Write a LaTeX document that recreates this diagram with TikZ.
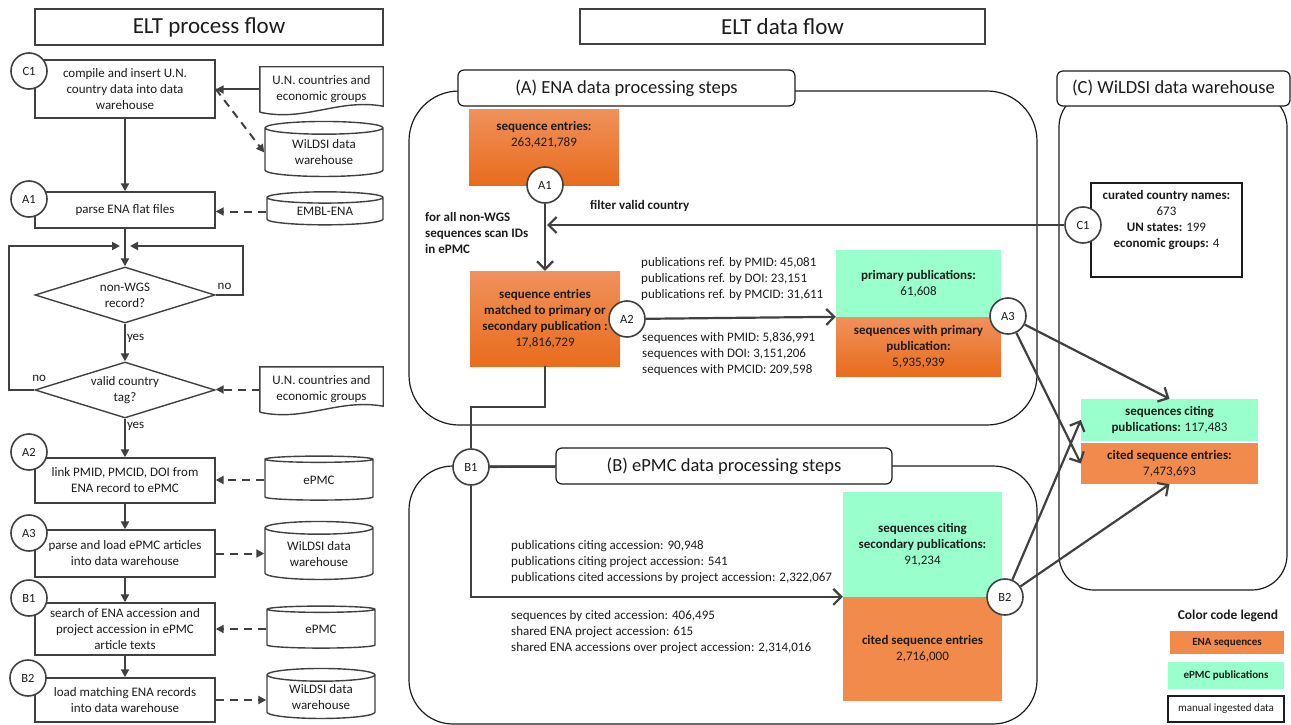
\documentclass[tikz,border=0pt]{standalone}
\usepackage{fontspec}
\setmainfont{Carlito}
\usepackage{tikz}
\usetikzlibrary{arrows.meta,positioning,calc,shapes.geometric}
\definecolor{linegray}{RGB}{64,64,64}
\definecolor{inkdark}{RGB}{28,28,28}
\definecolor{enaflat}{RGB}{242,138,76}
\definecolor{enatop}{RGB}{240,145,92}
\definecolor{enabottom}{RGB}{232,108,28}
\definecolor{pmcgreen}{RGB}{153,255,204}

\begin{document}
\begin{tikzpicture}[x=1pt,y=-1pt,
  every node/.style={text=inkdark},
  bigtitle/.style={draw=linegray,line width=1.2pt,fill=white,inner sep=0pt,font=\fontsize{23}{28}\selectfont},
  heading/.style={draw=inkdark,line width=1.2pt,fill=white,rounded corners=6pt,inner sep=0pt,minimum height=36pt,font=\fontsize{18.5}{22}\selectfont},
  container/.style={draw=inkdark,line width=1.2pt,rounded corners=#1},
  procbox/.style={draw=linegray,line width=1.4pt,fill=white,minimum width=180pt,inner sep=0pt,align=center,font=\fontsize{13}{16}\selectfont},
  decision/.style={diamond,draw=linegray,line width=1.4pt,fill=white,minimum width=180pt,minimum height=56pt,aspect=3.2,inner sep=0pt,align=center,font=\fontsize{13}{16}\selectfont},
  store/.style={cylinder,shape border rotate=90,aspect=0.2,draw=linegray,line width=1.4pt,fill=white,inner sep=0pt,align=center,font=\fontsize{13}{16}\selectfont},
  docnode/.style={inner sep=0pt,align=center,font=\fontsize{13}{16}\selectfont},
  docline/.style={draw=linegray,line width=1.4pt},
  stepcirc/.style={circle,draw=linegray,line width=1.6pt,fill=white,minimum size=36pt,inner sep=0pt,font=\fontsize{12.5}{15}\selectfont},
  lbl/.style={inner sep=1pt,font=\fontsize{13}{16}\selectfont},
  flowline/.style={draw=linegray,line width=2pt},
  flow/.style={flowline,-{Triangle[length=8pt,width=8pt]}},
  feed/.style={flow,dash pattern=on 8pt off 6pt},
  dataline/.style={draw=linegray,line width=2.2pt},
  dataflow/.style={dataline,-{Straight Barb[length=8pt,width=16pt]}},
  boxtxt/.style={inner sep=0pt,align=center,font=\fontsize{13}{16}\selectfont},
  datatxt/.style={inner sep=0pt,align=left,anchor=west,font=\fontsize{13}{16}\selectfont},
  enabox/.style={boxtxt,top color=enatop,bottom color=enabottom},
  flatbox/.style={boxtxt,fill=enaflat},
  pubbox/.style={boxtxt,fill=pmcgreen},
  infobox/.style={boxtxt,draw=inkdark,line width=1.3pt,fill=white}]
\useasboundingbox (0,0) rectangle (1291,725);

% ---- left: process flow ----
\node[bigtitle,minimum width=348pt,minimum height=36pt] (ptitle) at (209,27) {ELT process flow};

\node[procbox,minimum height=58pt] (c1box) at (125,89) {compile and insert U.N.\\country data into data\\warehouse};
\node[stepcirc] (c1) at (29,71) {C1};
\node[docnode,minimum width=123pt,minimum height=45pt] (un1) at (321.5,89.5) {U.N. countries and\\economic groups};
\node[store,minimum width=118pt,minimum height=55pt] (wh1) at (324,152.5) {WiLDSI data\\warehouse};

\node[procbox,minimum height=36pt] (a1box) at (125,210) {parse ENA flat files};
\node[stepcirc] (a1) at (29,199) {A1};
\node[store,minimum width=116pt,minimum height=33pt] (embl) at (325,211.5) {EMBL-ENA};

\coordinate (merge) at (125,246);
\node[decision] (dia1) at (125,295) {non-WGS\\record?};
\node[decision] (dia2) at (125,390) {valid country\\tag?};
\node[docnode,minimum width=123pt,minimum height=45pt] (un2) at (321.5,389.5) {U.N. countries and\\economic groups};

\node[procbox,minimum height=45pt] (a2box) at (125,480.5) {link PMID, PMCID, DOI from\\ENA record to ePMC};
\node[stepcirc] (a2) at (29,452) {A2};
\node[store,minimum width=108pt,minimum height=44pt] (epmc1) at (319,480) {ePMC};

\node[procbox,minimum height=47pt] (a3box) at (125,553.5) {parse and load ePMC articles\\into data warehouse};
\node[stepcirc] (a3) at (29,533) {A3};
\node[store,minimum width=108pt,minimum height=58pt] (wh2) at (319,554) {WiLDSI data\\warehouse};

\node[procbox,minimum height=52pt] (b1box) at (125,629) {search of ENA accession and\\project accession in ePMC\\article texts};
\node[stepcirc] (b1) at (29,598) {B1};
\node[store,minimum width=108pt,minimum height=42pt] (epmc2) at (321,629) {ePMC};

\node[procbox,minimum height=44pt] (b2box) at (125,700) {load matching ENA records\\into data warehouse};
\node[stepcirc] (b2) at (28,678) {B2};
\node[store,minimum width=108pt,minimum height=50pt] (wh3) at (321,697) {WiLDSI data\\warehouse};

\foreach \d in {un1,un2}
  \draw[docline] (\d.south west) -- (\d.north west) -- (\d.north east) -- ([yshift=6pt]\d.south east)
    .. controls +(-45,-8) and +(45,10) .. (\d.south west);

\draw[flow] (un1.west) -- (un1.west -| c1box.east);
\draw[feed] (c1box.east) -- (wh1.west);
\draw[flow] (c1box) -- (a1box);
\draw[feed] (embl.west) -- (embl.west -| a1box.east);
\draw[flowline] (a1box) -- (merge);
\draw[flow] (merge) -- (dia1);
\draw[flow] (dia1.east) node[lbl,anchor=south west,yshift=3pt] (no1) {no} -- ++(27,0) |- ([xshift=5pt]merge);
\draw[flow] (dia2.west) node[lbl,anchor=south west,xshift=-4pt,yshift=6pt] (no2) {no} -- ++(-25,0) |- ([xshift=-5pt]merge);
\draw[flow] (dia1.south) node[lbl,anchor=north west,yshift=-8pt] (yes1) {yes} -- (dia2.north);
\draw[feed] (un2.west) -- (un2.west -| dia2.east);
\draw[flow] (dia2.south) node[lbl,anchor=north west,yshift=-1pt] (yes2) {yes} -- (a2box.north);
\draw[feed] (epmc1.west) -- (epmc1.west -| a2box.east);
\draw[flow] (a2box) -- (a3box);
\draw[feed] (a3box.east) -- (a3box.east -| wh2.west);
\draw[flow] (a3box) -- (b1box);
\draw[feed] (epmc2.west) -- (epmc2.west -| b1box.east);
\draw[flow] (b1box) -- (b2box);
\draw[feed] (b2box.east) -- (b2box.east -| wh3.west);

% ---- right: data flow ----
\node[bigtitle,minimum width=405pt,minimum height=35pt] (dtitle) at (782.5,26.5) {ELT data flow};

\draw[container=50pt] (409,91) rectangle (1037,425);
\draw[container=44pt] (409,466) rectangle (1037,724);
\draw[container=35pt] (1059,92) rectangle (1287,590);
\node[heading,minimum width=337pt] (headA) at (626.5,88) {(A) ENA data processing steps};
\node[heading,minimum width=336pt] (headB) at (724,466) {(B) ePMC data processing steps};
\node[heading,minimum width=233pt,minimum height=35pt] (headC) at (1173.5,88.5) {(C) WiLDSI data warehouse};

\node[enabox,minimum width=150pt,minimum height=76pt] (seqent) at (544,147) {};
\node[boxtxt] (seqenttxt) at (544,135) {\textbf{sequence entries:}\\263,421,789};
\node[stepcirc] (a1r) at (545,185) {A1};
\node[datatxt,font=\fontsize{13}{16}\selectfont\bfseries] (filtertxt) at (590,206) {filter valid country};
\node[datatxt,font=\fontsize{13}{16}\selectfont\bfseries] (scantxt) at (425,233) {for all non-WGS\\sequences scan IDs\\in ePMC};
\node[enabox,minimum width=150pt,minimum height=95pt] (matched) at (545,318.5) {\textbf{sequence entries}\\\textbf{matched to primary or}\\\textbf{secondary publication :}\\17,816,729};
\node[stepcirc] (a2r) at (627,319) {A2};
\node[datatxt] (refcounts) at (641,279) {publications ref. by PMID: 45,081\\publications ref. by DOI: 23,151\\publications ref. by PMCID: 31,611};
\node[datatxt] (seqcounts) at (642,354) {sequences with PMID: 5,836,991\\sequences with DOI: 3,151,206\\sequences with PMCID: 209,598};
\node[pubbox,minimum width=165pt,minimum height=67pt] (primpub) at (918.5,283.5) {\textbf{primary publications:}\\61,608};
\node[enabox,minimum width=165pt,minimum height=59pt] (seqprim) at (918.5,346.5) {\textbf{sequences with primary}\\\textbf{publication:}\\5,935,939};
\node[stepcirc] (a3r) at (1008,316) {A3};

\node[infobox,minimum width=151pt,minimum height=94pt] (curated) at (1166.5,230) {};
\node[boxtxt] (curatedtxt) at (1166.5,220) {\textbf{curated country names:}\\673\\\textbf{UN states:} 199\\\textbf{economic groups:} 4};
\node[stepcirc] (c1r) at (1083,225) {C1};
\node[pubbox,minimum width=177pt,minimum height=42pt] (citing) at (1169.5,420) {\textbf{sequences citing}\\\textbf{publications:} 117,483};
\node[flatbox,minimum width=177pt,minimum height=41pt] (cited) at (1169.5,463.5) {\textbf{cited sequence entries:}\\7,473,693};

\node[stepcirc] (b1r) at (471,467) {B1};
\node[datatxt] (pubcounts) at (511,562) {publications citing accession: 90,948\\publications citing project accession: 541\\publications cited accessions by project accession: 2,322,067};
\node[datatxt] (acccounts) at (511,632) {sequences by cited accession: 406,495\\shared ENA project accession: 615\\shared ENA accessions over project accession: 2,314,016};
\node[pubbox,minimum width=159pt,minimum height=105pt] (secpub) at (922.5,544.5) {\textbf{sequences citing}\\\textbf{secondary publications:}\\91,234};
\node[flatbox,minimum width=159pt,minimum height=104pt] (citedseq) at (922.5,649) {\textbf{cited sequence entries}\\2,716,000};
\node[stepcirc] (b2r) at (1005,597) {B2};

\draw[dataflow] (a1r) -- (matched);
\draw[dataflow] (c1r) -- ([xshift=2pt]c1r -| a1r);
\draw[dataflow] (a2r) -- (seqprim.north west);
\draw[dataflow] (a3r) -- (citing.north);
\draw[dataflow] (a3r) -- (cited.west);
\draw[dataline] (matched.south) -- ++(0,41) -| (b1r);
\draw[dataline] (b1r) -- (headB);
\draw[dataflow] (b1r) |- (citedseq.north west);
\draw[dataflow] (b2r) -- (citing.west);
\draw[dataflow] (b2r) -- (cited.south);

% legend
\node[boxtxt,font=\fontsize{13.5}{16}\selectfont\bfseries] (legtitle) at (1228,616) {Color code legend};
\node[flatbox,minimum width=114pt,minimum height=23pt,font=\fontsize{11}{13}\selectfont\bfseries] (legena) at (1227,642.5) {ENA sequences};
\node[pubbox,minimum width=116pt,minimum height=27pt,font=\fontsize{11}{13}\selectfont\bfseries] (legpmc) at (1226,675.5) {ePMC publications};
\node[infobox,minimum width=116pt,minimum height=26pt,font=\fontsize{11}{13}\selectfont] (legman) at (1226,709) {manual ingested data};
\end{tikzpicture}
\end{document}
